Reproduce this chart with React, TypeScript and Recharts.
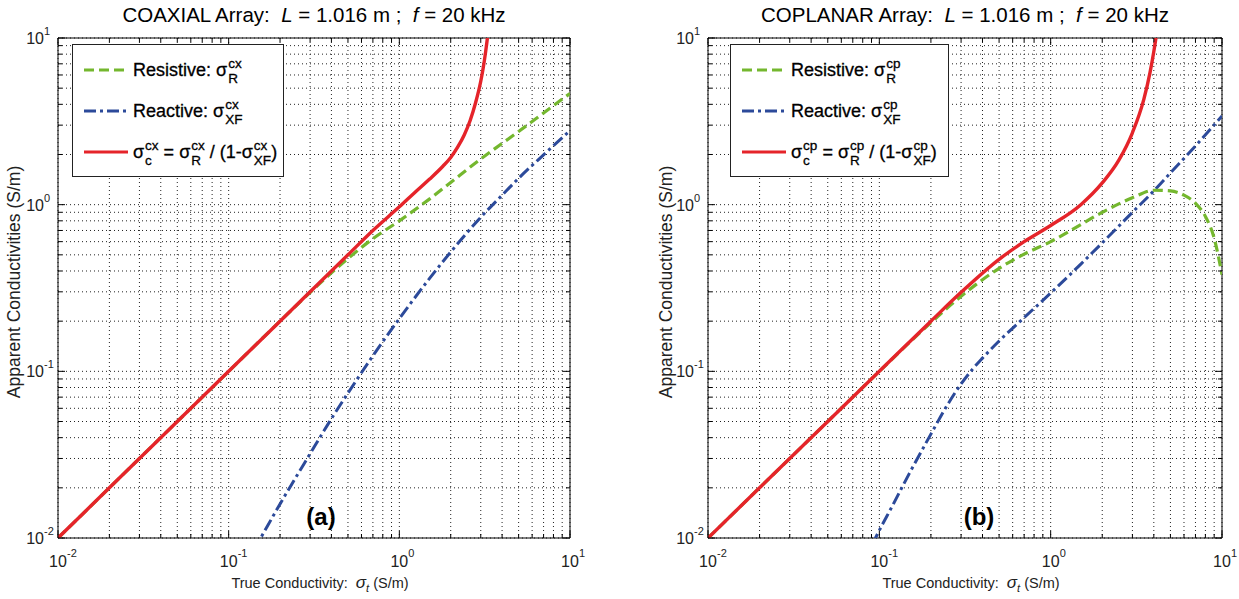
import React from 'react';
import {
  LineChart,
  Line,
  XAxis,
  YAxis,
  CartesianGrid,
  ReferenceArea,
  Legend,
  Label,
} from 'recharts';

const FONT = '"Liberation Sans", Arial, Helvetica, sans-serif';

// log axis ticks (grid at every one), labels only at decades
const logTicks = [
  0.01, 0.02, 0.03, 0.04, 0.05, 0.06, 0.07, 0.08, 0.09,
  0.1, 0.2, 0.3, 0.4, 0.5, 0.6, 0.7, 0.8, 0.9,
  1, 2, 3, 4, 5, 6, 7, 8, 9, 10,
];
const decadeTicks = [0.01, 0.1, 1, 10];
const decadeExps = ['-2', '-1', '0', '1'];

// (a) coaxial array
const cxResX = [0.01, 0.02, 0.05, 0.1, 0.2, 0.3, 0.4, 0.5, 0.7, 1, 1.5, 2, 3, 4, 5, 7, 10];
const cxResY = [0.01, 0.02, 0.05, 0.1, 0.2, 0.297, 0.39, 0.475, 0.625, 0.8, 1.08, 1.36, 1.88, 2.33, 2.75, 3.55, 4.65];
const cxReaX = [0.12, 0.154, 0.2, 0.3, 0.4, 0.5, 0.7, 1, 1.5, 2, 3, 4, 5, 7, 10];
const cxReaY = [0.0064, 0.01, 0.016, 0.032, 0.052, 0.074, 0.124, 0.207, 0.36, 0.52, 0.84, 1.14, 1.44, 1.99, 2.78];
const cxAppX = [0.01, 0.02, 0.05, 0.1, 0.2, 0.3, 0.4, 0.5, 0.7, 1, 1.25, 1.5, 1.8, 2, 2.2, 2.4, 2.6, 2.8, 3.0, 3.1, 3.2, 3.3, 3.4];
const cxAppY = [0.01, 0.02, 0.05, 0.1, 0.2, 0.3, 0.4, 0.5, 0.7, 0.97, 1.2, 1.42, 1.7, 1.92, 2.22, 2.62, 3.2, 4.1, 5.5, 6.6, 8.2, 10.5, 14];

// (b) coplanar array
const cpResX = [0.01, 0.02, 0.05, 0.1, 0.2, 0.3, 0.5, 0.7, 1, 1.5, 2, 3, 4, 5, 6, 7, 8, 9, 10];
const cpResY = [0.01, 0.02, 0.05, 0.1, 0.196, 0.282, 0.415, 0.505, 0.6, 0.76, 0.9, 1.1, 1.22, 1.21, 1.14, 1.02, 0.85, 0.63, 0.38];
const cpReaX = [0.08, 0.095, 0.12, 0.15, 0.2, 0.25, 0.3, 0.35, 0.4, 0.5, 0.7, 1, 1.5, 2, 3, 4, 5, 7, 10];
const cpReaY = [0.0068, 0.01, 0.0158, 0.0245, 0.042, 0.063, 0.084, 0.103, 0.12, 0.152, 0.21, 0.295, 0.44, 0.59, 0.9, 1.21, 1.55, 2.25, 3.4];
const cpAppX = [0.01, 0.02, 0.05, 0.1, 0.2, 0.3, 0.5, 0.7, 1, 1.5, 2, 2.5, 3, 3.5, 3.8, 4.0, 4.2];
const cpAppY = [0.01, 0.02, 0.05, 0.1, 0.2, 0.298, 0.47, 0.6, 0.75, 1.0, 1.35, 1.85, 2.7, 4.3, 6.2, 8.3, 11.5];

const GREEN = '#74b72e';
const BLUE = '#2c4a9a';
const RED = '#e5242a';
const GREEN_DASH = '10 5';
const BLUE_DASH = '12 4 3 4';

const PLOT_TOP = 38;
const PLOT_H = 500;
const Y_AXIS_W = 58;

const pts = (xs: number[], ys: number[]) => xs.map((x, i) => ({ x, y: ys[i] }));

function Sig({ sup, sub }: { sup: string; sub: string }) {
  return (
    <span style={{ display: 'inline-flex', alignItems: 'center' }}>
      <span>σ</span>
      <span
        style={{
          display: 'inline-flex',
          flexDirection: 'column',
          fontSize: 13.5,
          lineHeight: '15px',
          marginLeft: 1,
          marginTop: 2,
        }}
      >
        <span>{sup}</span>
        <span>{sub}</span>
      </span>
    </span>
  );
}

function LegendBox({ sup, left, width }: { sup: string; left: number; width: number }) {
  const rows = [
    {
      color: GREEN,
      dash: GREEN_DASH,
      text: (
        <>
          <span>Resistive:&nbsp;</span>
          <Sig sup={sup} sub="R" />
        </>
      ),
    },
    {
      color: BLUE,
      dash: BLUE_DASH,
      text: (
        <>
          <span>Reactive:&nbsp;</span>
          <Sig sup={sup} sub="XF" />
        </>
      ),
    },
    {
      color: RED,
      dash: undefined,
      text: (
        <>
          <Sig sup={sup} sub="c" />
          <span>&nbsp;=&nbsp;</span>
          <Sig sup={sup} sub="R" />
          <span>&nbsp;/ (1-</span>
          <Sig sup={sup} sub="XF" />
          <span>)</span>
        </>
      ),
    },
  ];
  return (
    <div
      style={{
        position: 'absolute',
        left,
        top: 44,
        width,
        height: 133,
        background: '#fff',
        border: '1px solid #222',
        boxSizing: 'border-box',
        fontFamily: FONT,
        fontSize: 18,
        color: '#000',
        WebkitTextStroke: '0.3px #000',
      }}
    >
      {rows.map((r, i) => (
        <div
          key={i}
          style={{
            position: 'absolute',
            left: 11,
            top: 25 + i * 41 - 15,
            height: 30,
            display: 'flex',
            alignItems: 'center',
            whiteSpace: 'nowrap',
          }}
        >
          <svg width={44} height={6} style={{ marginRight: 5 }}>
            <line x1={0} x2={44} y1={3} y2={3} stroke={r.color} strokeWidth={3} strokeDasharray={r.dash} />
          </svg>
          {r.text}
        </div>
      ))}
    </div>
  );
}

function XTick(props: any) {
  const { x, y, payload } = props;
  const i = decadeTicks.indexOf(payload.value);
  const len = i >= 0 ? 7 : 4;
  return (
    <g>
      <line x1={x} x2={x} y1={y} y2={y - len} stroke="#000" />
      <line x1={x} x2={x} y1={y - PLOT_H} y2={y - PLOT_H + len} stroke="#000" />
      {i >= 0 && (
        <g fontFamily={FONT} fill="#222">
          <text x={x} y={y + 29} textAnchor="middle" fontSize={16}>
            10
          </text>
          <text x={x + 9} y={y + 19} fontSize={11}>
            {decadeExps[i]}
          </text>
        </g>
      )}
    </g>
  );
}

function YTick(props: any) {
  const { x, y, payload, plotW } = props;
  const i = decadeTicks.indexOf(payload.value);
  const len = i >= 0 ? 7 : 4;
  return (
    <g>
      <line x1={x} x2={x + len} y1={y} y2={y} stroke="#000" />
      <line x1={x + plotW} x2={x + plotW - len} y1={y} y2={y} stroke="#000" />
      {i >= 0 && (
        <g fontFamily={FONT} fill="#222">
          <text x={x - 14} y={y + 6} textAnchor="end" fontSize={16}>
            10
          </text>
          <text x={x - 14} y={y - 3} fontSize={11}>
            {decadeExps[i]}
          </text>
        </g>
      )}
    </g>
  );
}

type PanelProps = {
  left: number;
  width: number;
  marginLeft: number;
  marginRight: number;
  yLabelDx: number;
  kind: string;
  sup: string;
  tag: string;
  tagX: number;
  legendLeft: number;
  legendWidth: number;
  res: { x: number; y: number }[];
  rea: { x: number; y: number }[];
  app: { x: number; y: number }[];
};

function Panel(p: PanelProps) {
  const plotW = p.width - p.marginLeft - Y_AXIS_W - p.marginRight;
  const plotLeft = p.marginLeft + Y_AXIS_W;
  return (
    <div style={{ position: 'absolute', left: p.left, top: 0, width: p.width, height: 599 }}>
      <div
        style={{
          position: 'absolute',
          left: plotLeft - 40,
          width: plotW + 80,
          top: 3,
          textAlign: 'center',
          fontFamily: FONT,
          fontSize: 20.5,
          color: '#000',
          whiteSpace: 'nowrap',
        }}
      >
        {p.kind} Array:&nbsp; <i>L</i> = 1.016 m ;&nbsp; <i>f</i> = 20 kHz
      </div>
      <LineChart
        width={p.width}
        height={599}
        margin={{ top: PLOT_TOP, right: p.marginRight, left: p.marginLeft, bottom: 0 }}
      >
        <CartesianGrid stroke="#222" strokeDasharray="1 3" />
        <XAxis
          dataKey="x"
          type="number"
          scale="log"
          domain={[0.01, 10]}
          allowDataOverflow
          ticks={logTicks}
          interval={0}
          height={61}
          tickSize={0}
          tickMargin={0}
          axisLine={false}
          tickLine={false}
          tick={(t: any) => <XTick {...t} />}
        >
          <Label
            content={({ viewBox }: any) => (
              <text
                x={viewBox.x + viewBox.width / 2 + 6}
                y={viewBox.y + 50}
                textAnchor="middle"
                fontFamily={FONT}
                fontSize={14.5}
                fill="#222"
              >
                True Conductivity:{'\u00a0\u00a0'}
                <tspan fontStyle="italic" fontSize={17}>σ</tspan>
                <tspan fontStyle="italic" fontSize={11} dy={4}>t</tspan>
                <tspan dy={-4}> (S/m)</tspan>
              </text>
            )}
          />
        </XAxis>
        <YAxis
          dataKey="y"
          type="number"
          scale="log"
          domain={[0.01, 10]}
          allowDataOverflow
          ticks={logTicks}
          interval={0}
          width={Y_AXIS_W}
          tickSize={0}
          tickMargin={0}
          axisLine={false}
          tickLine={false}
          tick={(t: any) => <YTick {...t} plotW={plotW} />}
        >
          <Label
            content={({ viewBox }: any) => {
              const cx = viewBox.x + p.yLabelDx;
              const cy = viewBox.y + viewBox.height / 2 - 6;
              return (
                <text
                  x={cx}
                  y={cy}
                  textAnchor="middle"
                  fontFamily={FONT}
                  fontSize={17.5}
                  fill="#222"
                  transform={`rotate(-90, ${cx}, ${cy})`}
                >
                  Apparent Conductivities (S/m)
                </text>
              );
            }}
          />
        </YAxis>
        <Line
          data={p.rea}
          dataKey="y"
          type="monotone"
          stroke={BLUE}
          strokeWidth={3}
          strokeDasharray={BLUE_DASH}
          dot={false}
          activeDot={false}
          isAnimationActive={false}
        />
        <Line
          data={p.res}
          dataKey="y"
          type="monotone"
          stroke={GREEN}
          strokeWidth={3.2}
          strokeDasharray={GREEN_DASH}
          dot={false}
          activeDot={false}
          isAnimationActive={false}
        />
        <Line
          data={p.app}
          dataKey="y"
          type="monotone"
          stroke={RED}
          strokeWidth={3.4}
          dot={false}
          activeDot={false}
          isAnimationActive={false}
        />
        <ReferenceArea x1={0.01} x2={10} y1={0.01} y2={10} fill="none" stroke="#000" strokeWidth={1} />
        <Legend
          layout="vertical"
          align="center"
          verticalAlign="middle"
          wrapperStyle={{ left: 0, top: 0, width: 0, height: 0 }}
          content={() => <LegendBox sup={p.sup} left={p.legendLeft} width={p.legendWidth} />}
        />
      </LineChart>
      <div
        style={{
          position: 'absolute',
          left: p.tagX - 30,
          width: 60,
          top: 503,
          textAlign: 'center',
          fontFamily: FONT,
          fontWeight: 'bold',
          fontSize: 24,
        }}
      >
        {p.tag}
      </div>
    </div>
  );
}

export default function App() {
  return (
    <div style={{ position: 'relative', width: 1239, height: 599, background: '#fff', overflow: 'hidden' }}>
      <style>{'body{margin:0;background:#fff}'}</style>
      <Panel
        left={0}
        width={620}
        marginLeft={0}
        marginRight={50}
        yLabelDx={20}
        kind="COAXIAL"
        sup="cx"
        tag="(a)"
        tagX={321}
        legendLeft={72}
        legendWidth={212}
        res={pts(cxResX, cxResY)}
        rea={pts(cxReaX, cxReaY)}
        app={pts(cxAppX, cxAppY)}
      />
      <Panel
        left={620}
        width={619}
        marginLeft={30}
        marginRight={17}
        yLabelDx={22}
        kind="COPLANAR"
        sup="cp"
        tag="(b)"
        tagX={359}
        legendLeft={110}
        legendWidth={219}
        res={pts(cpResX, cpResY)}
        rea={pts(cpReaX, cpReaY)}
        app={pts(cpAppX, cpAppY)}
      />
    </div>
  );
}
